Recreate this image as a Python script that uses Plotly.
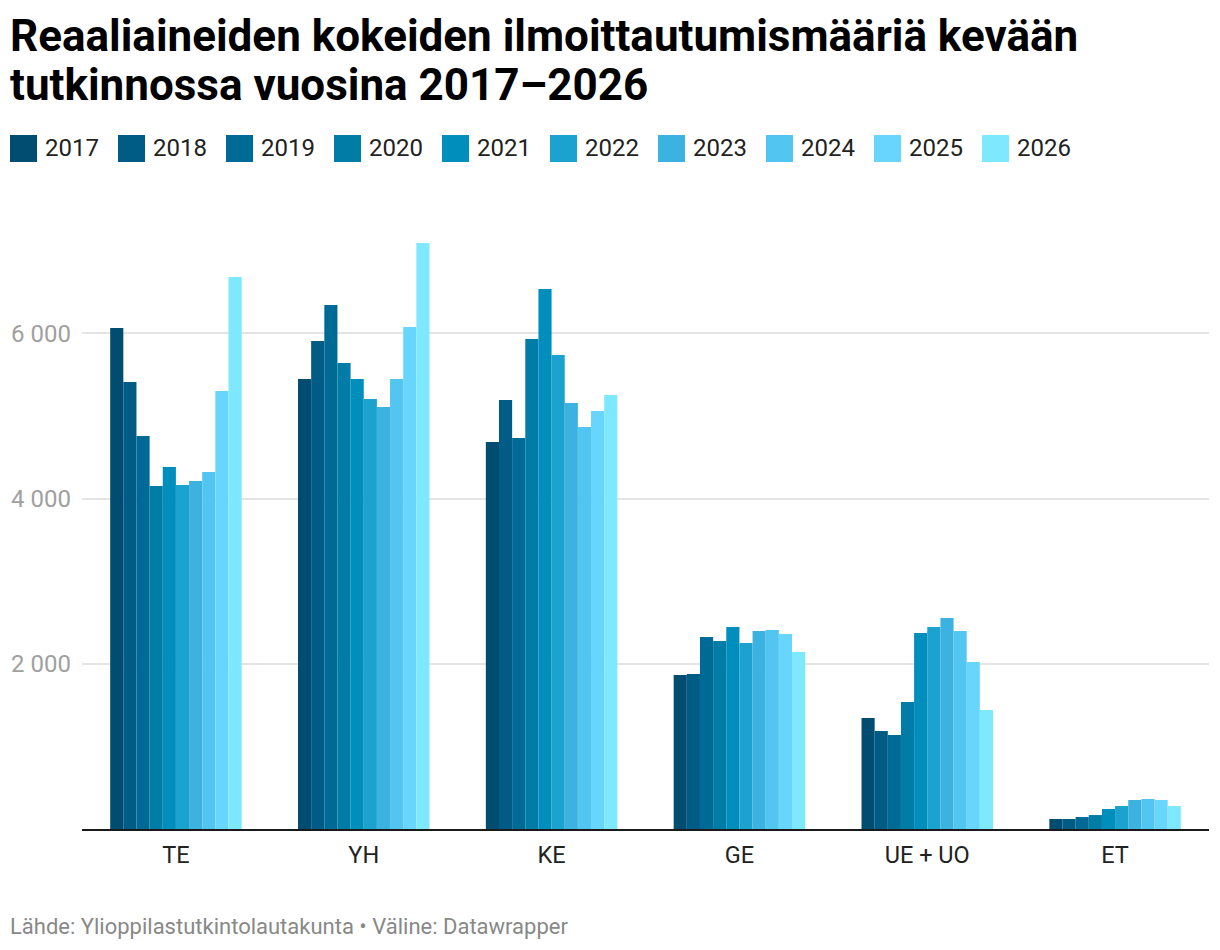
import plotly.graph_objects as go

categories = ["TE", "YH", "KE", "GE", "UE + UO", "ET"]
years = ["2017", "2018", "2019", "2020", "2021", "2022", "2023", "2024", "2025", "2026"]

v2017 = [6064, 5447, 4684, 1864, 1344, 121]
v2018 = [5410, 5907, 5193, 1876, 1186, 121]
v2019 = [4757, 6342, 4733, 2324, 1138, 145]
v2020 = [4152, 5640, 5931, 2276, 1537, 169]
v2021 = [4382, 5447, 6536, 2445, 2372, 242]
v2022 = [4164, 5205, 5737, 2251, 2445, 278]
v2023 = [4212, 5108, 5156, 2397, 2554, 351]
v2024 = [4321, 5447, 4866, 2409, 2397, 363]
v2025 = [5302, 6076, 5059, 2360, 2021, 351]
v2026 = [6681, 7093, 5253, 2142, 1440, 278]
series = [v2017, v2018, v2019, v2020, v2021, v2022, v2023, v2024, v2025, v2026]

colors = ["#004d71", "#005b85", "#006a96", "#007ca6", "#008fbc",
          "#1ba2cf", "#3cb2e0", "#52c5f1", "#68d5fd", "#7ee9fe"]

tick_vals = [2000, 4000, 6000]

title_lines = ["Reaaliaineiden kokeiden ilmoittautumismääriä kevään",
               "tutkinnossa vuosina 2017–2026"]
footer = "Lähde: Ylioppilastutkintolautakunta • Väline: Datawrapper"

# page has an 8px body margin; figure sized so it fits the window
OFF = 8
W, H = 1212, 942
ML, MR, MT, MB = 74, 11, 201, 121
PW, PH = W - ML - MR, H - MT - MB


def px_x(s):
    return (s - OFF - ML) / PW


def px_y(s):
    return (H - MB - (s - OFF)) / PH


fig = go.Figure()
for yr, vals, col in zip(years, series, colors):
    fig.add_trace(go.Bar(x=categories, y=vals, name=yr,
                         marker=dict(color=col, line=dict(width=0)),
                         showlegend=False))

shapes = []
annotations = []
leg_x0 = 10
leg_step = 108
for i, (yr, col) in enumerate(zip(years, colors)):
    x0 = leg_x0 + i * leg_step
    shapes.append(dict(type="rect", xref="paper", yref="paper",
                       x0=px_x(x0), x1=px_x(x0 + 27), y0=px_y(162), y1=px_y(135),
                       fillcolor=col, line=dict(width=0)))
    annotations.append(dict(text=yr, xref="paper", yref="paper", x=px_x(x0 + 33), y=px_y(148.5),
                            xanchor="left", yanchor="middle", showarrow=False,
                            font=dict(family="Roboto", size=24, color="#222222")))

for line, yc in zip(title_lines, [36.5, 85.5]):
    annotations.append(dict(text="<b>" + line + "</b>", xref="paper", yref="paper",
                            x=px_x(8), y=px_y(yc), xanchor="left", yanchor="middle",
                            showarrow=False,
                            font=dict(family="Roboto", size=44, color="#000000")))

annotations.append(dict(text=footer,
                        xref="paper", yref="paper", x=px_x(8), y=px_y(926),
                        xanchor="left", yanchor="middle", showarrow=False,
                        font=dict(family="Roboto", size=22, color="#888888")))

fig.update_layout(
    width=W, height=H,
    margin=dict(l=ML, r=MR, t=MT, b=MB, autoexpand=False),
    paper_bgcolor="white", plot_bgcolor="white",
    font=dict(family="Roboto", color="#222222"),
    barmode="group", bargap=0.3, bargroupgap=0,
    separators=", ",
    shapes=shapes, annotations=annotations,
    showlegend=False,
)
fig.update_yaxes(range=[0, 7504], tickvals=tick_vals, tickformat=",d",
                 showgrid=True, gridcolor="#e4e4e4", gridwidth=1.5,
                 zeroline=False, showline=False, ticks="", ticklabelstandoff=10,
                 automargin=False,
                 tickfont=dict(family="Roboto", size=24, color="#a0a0a0"))
fig.update_xaxes(showline=True, linecolor="#1a1a1a", linewidth=2, ticks="",
                 ticklabelstandoff=4, showgrid=False, automargin=False,
                 tickfont=dict(family="Roboto", size=23.5, color="#222222"))

fig.write_html("out.html")
